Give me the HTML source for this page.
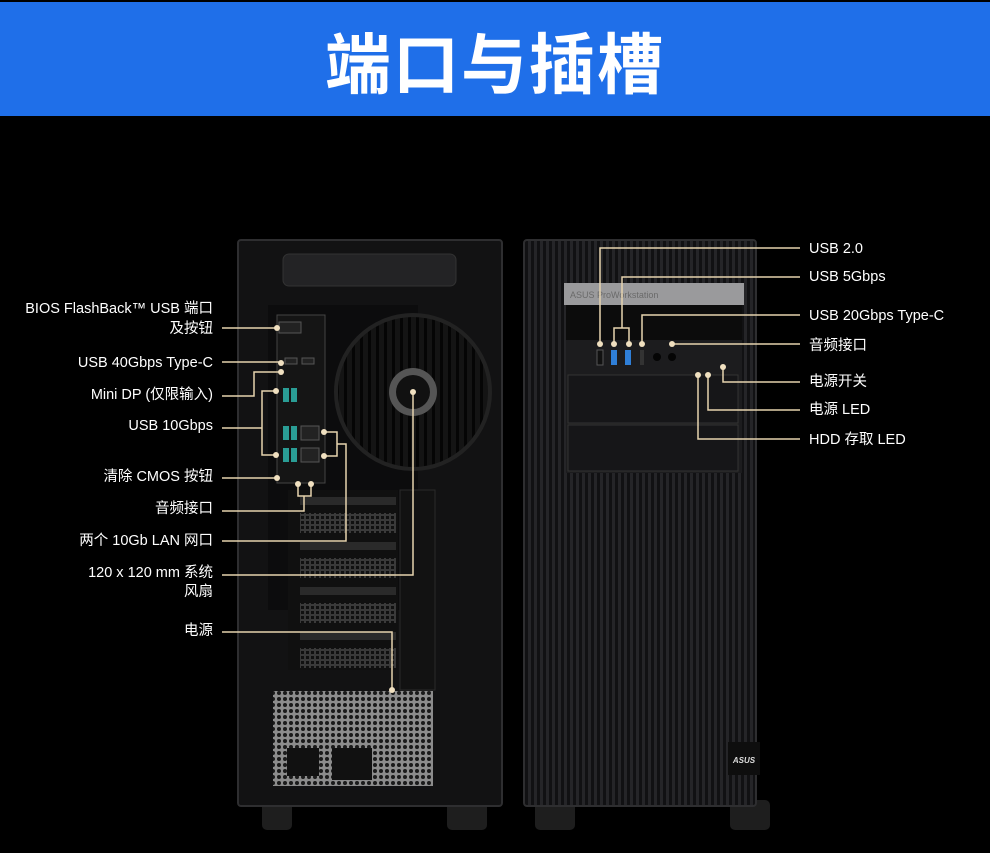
<!DOCTYPE html>
<html><head><meta charset="utf-8"><style>
html,body{margin:0;padding:0;background:#000;}
body{width:990px;height:853px;overflow:hidden;position:relative;font-family:"Liberation Sans","Noto Sans CJK SC",sans-serif;}
.hdr{position:absolute;left:0;top:2px;width:990px;height:114px;background:#1f6fe9;}
.hdr div{position:absolute;left:0;width:990px;top:18px;text-align:center;color:#fff;font-size:66px;font-weight:bold;letter-spacing:2px;font-family:"Noto Sans CJK SC",sans-serif;line-height:80px;}
svg{position:absolute;left:0;top:0;}
</style></head><body>
<div class="hdr"><div>端口与插槽</div></div>
<svg width="990" height="853" viewBox="0 0 990 853" xmlns="http://www.w3.org/2000/svg">
<defs>
<pattern id="stripe" width="6" height="10" patternUnits="userSpaceOnUse"><rect width="6" height="10" fill="#111113"/><rect width="3" height="10" fill="#252528"/></pattern>
<pattern id="hex" width="6" height="6" patternUnits="userSpaceOnUse"><rect width="6" height="6" fill="#8c8c8c"/><circle cx="3" cy="3" r="2" fill="#1a1a1a"/></pattern>
<pattern id="grill" width="5" height="5" patternUnits="userSpaceOnUse"><rect width="5" height="5" fill="#3a3a3a"/><rect x="1" y="1" width="3" height="3" fill="#111"/></pattern>
<pattern id="fang" width="8" height="10" patternUnits="userSpaceOnUse"><rect width="8" height="10" fill="#141414"/><rect width="3" height="10" fill="#050505"/></pattern>
</defs>
<g fill="#1e1e1e"><rect x="262" y="800" width="30" height="30" rx="5"/><rect x="447" y="800" width="40" height="30" rx="5"/><rect x="535" y="800" width="40" height="30" rx="5"/><rect x="730" y="800" width="40" height="30" rx="5"/></g>
<rect x="238" y="240" width="264" height="566" rx="3" fill="#121213" stroke="#2e2e30" stroke-width="2"/>
<rect x="283" y="254" width="173" height="32" rx="6" fill="#232325" stroke="#333" />
<rect x="268" y="305" width="150" height="305" fill="#0c0c0d"/>
<rect x="277" y="315" width="48" height="168" fill="#151515" stroke="#444"/>
<g fill="#2a9d95"><rect x="283" y="388" width="6" height="14"/><rect x="291" y="388" width="6" height="14"/><rect x="283" y="426" width="6" height="14"/><rect x="291" y="426" width="6" height="14"/><rect x="283" y="448" width="6" height="14"/><rect x="291" y="448" width="6" height="14"/></g>
<g fill="#222" stroke="#555"><rect x="301" y="426" width="18" height="14"/><rect x="301" y="448" width="18" height="14"/><rect x="279" y="322" width="22" height="11"/><rect x="285" y="358" width="12" height="6"/><rect x="302" y="358" width="12" height="6"/></g>
<circle cx="413" cy="392" r="77" fill="url(#fang)"/>
<circle cx="413" cy="392" r="77" fill="none" stroke="#222" stroke-width="4"/>
<circle cx="413" cy="392" r="24" fill="#555"/>
<circle cx="413" cy="392" r="17" fill="#111"/>
<g>
<rect x="288" y="490" width="110" height="180" fill="#101010"/>
<g fill="#2a2a2a"><rect x="300" y="497" width="96" height="8"/><rect x="300" y="542" width="96" height="8"/><rect x="300" y="587" width="96" height="8"/><rect x="300" y="632" width="96" height="8"/></g>
<g fill="url(#grill)"><rect x="300" y="513" width="96" height="20"/><rect x="300" y="558" width="96" height="20"/><rect x="300" y="603" width="96" height="20"/><rect x="300" y="648" width="96" height="20"/></g>
<rect x="400" y="490" width="35" height="200" fill="#121212" stroke="#2a2a2a"/>
</g>
<rect x="273" y="691" width="160" height="95" fill="url(#hex)"/>
<rect x="287" y="748" width="32" height="28" fill="#111"/>
<rect x="332" y="748" width="40" height="32" fill="#111"/>
<rect x="524" y="240" width="232" height="566" rx="3" fill="url(#stripe)" stroke="#2e2e30" stroke-width="2"/>
<rect x="564" y="283" width="180" height="22" fill="#9a9a9c"/>
<text x="570" y="298" font-size="9" fill="#6a6a6a">ASUS ProWorkstation</text>
<rect x="566" y="305" width="176" height="35" fill="#0c0c0c"/>
<rect x="566" y="340" width="176" height="133" fill="#1c1c1e"/>
<rect x="568" y="375" width="170" height="48" fill="#161618" stroke="#333"/>
<rect x="568" y="425" width="170" height="46" fill="#161618" stroke="#333"/>
<rect x="597" y="350" width="6" height="15" fill="#111" stroke="#555"/>
<rect x="611" y="350" width="6" height="15" fill="#2f7fd8"/><rect x="625" y="350" width="6" height="15" fill="#2f7fd8"/>
<rect x="640" y="350" width="4" height="15" fill="#333"/>
<circle cx="657" cy="357" r="4" fill="#050505"/><circle cx="672" cy="357" r="4" fill="#050505"/>
<rect x="728" y="742" width="32" height="33" fill="#0e0e0e"/>
<text x="744" y="763" font-size="8" fill="#ddd" text-anchor="middle" font-weight="bold" font-style="italic">ASUS</text>
<g fill="none" stroke="#e6d3ae" stroke-width="1.5">
<path d="M222 328H277"/>
<path d="M222 362H281"/>
<path d="M222 396H254V372H281"/>
<path d="M222 428H262M276 391H262V455H276"/>
<path d="M222 478H277"/>
<path d="M222 511H304V496M298 484V496H311V484"/>
<path d="M222 541H346V444H337M324 432H337V456H324"/>
<path d="M222 575H413V392"/>
<path d="M222 632H392V690"/>
<path d="M800 248H600V344"/>
<path d="M800 277H622V328M614 344V328H629V344"/>
<path d="M800 315H642V344"/>
<path d="M800 344H672"/>
<path d="M800 382H723V367"/>
<path d="M800 410H708V375"/>
<path d="M800 439H698V375"/>
</g>
<g fill="#f0e0c0">
<circle cx="277" cy="328" r="3"/><circle cx="281" cy="363" r="3"/><circle cx="281" cy="372" r="3"/><circle cx="276" cy="391" r="3"/><circle cx="276" cy="455" r="3"/><circle cx="277" cy="478" r="3"/><circle cx="298" cy="484" r="3"/><circle cx="311" cy="484" r="3"/><circle cx="324" cy="432" r="3"/><circle cx="324" cy="456" r="3"/><circle cx="413" cy="392" r="3"/><circle cx="392" cy="690" r="3"/>
<circle cx="600" cy="344" r="3"/><circle cx="614" cy="344" r="3"/><circle cx="629" cy="344" r="3"/><circle cx="642" cy="344" r="3"/><circle cx="672" cy="344" r="3"/><circle cx="723" cy="367" r="3"/><circle cx="708" cy="375" r="3"/><circle cx="698" cy="375" r="3"/>
</g>
<g fill="#fff" font-size="14.5" font-family="Liberation Sans, Noto Sans CJK SC, sans-serif" text-anchor="end">
<text x="213" y="313">BIOS FlashBack™ USB 端口</text>
<text x="213" y="333">及按钮</text>
<text x="213" y="367">USB 40Gbps Type-C</text>
<text x="213" y="399">Mini DP (仅限输入)</text>
<text x="213" y="430">USB 10Gbps</text>
<text x="213" y="481">清除 CMOS 按钮</text>
<text x="213" y="513">音频接口</text>
<text x="213" y="545">两个 10Gb LAN 网口</text>
<text x="213" y="577">120 x 120 mm 系统</text>
<text x="213" y="596">风扇</text>
<text x="213" y="635">电源</text>
</g>
<g fill="#fff" font-size="14.5" font-family="Liberation Sans, Noto Sans CJK SC, sans-serif">
<text x="809" y="253">USB 2.0</text>
<text x="809" y="281">USB 5Gbps</text>
<text x="809" y="320">USB 20Gbps Type-C</text>
<text x="809" y="350">音频接口</text>
<text x="809" y="386">电源开关</text>
<text x="809" y="414">电源 LED</text>
<text x="809" y="444">HDD 存取 LED</text>
</g>
</svg>
</body></html>
